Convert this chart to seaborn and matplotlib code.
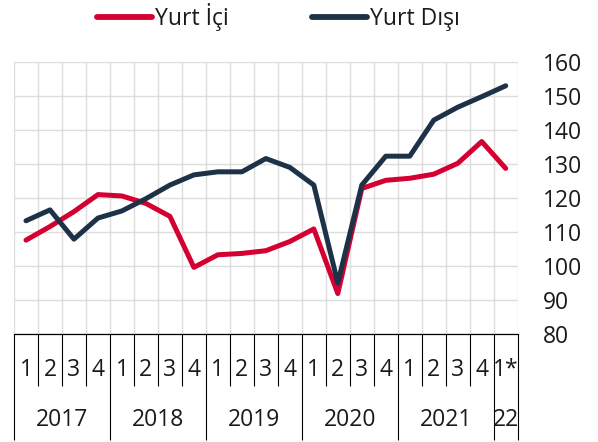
import numpy as np
import pandas as pd
import matplotlib
matplotlib.use("Agg")
import matplotlib.pyplot as plt
import matplotlib.transforms as mtransforms
import seaborn as sns

# ---- data ----
quarters = ["1", "2", "3", "4"] * 5 + ["1*"]
years = ["2017", "2018", "2019", "2020", "2021", "22"]
year_spans = [4, 4, 4, 4, 4, 1]
yurt_ici = [107.6, 111.6, 116.0, 121.0, 120.6, 118.4, 114.6, 99.6, 103.3, 103.7, 104.5,
            107.2, 110.9, 91.9, 122.8, 125.2, 125.8, 127.0, 130.2, 136.6, 128.7]
yurt_disi = [113.3, 116.5, 107.9, 114.1, 116.2, 119.8, 123.8, 126.8, 127.7, 127.7, 131.6,
             129.0, 123.8, 95.0, 123.8, 132.3, 132.3, 142.9, 146.7, 149.8, 153.0]
series_names = ["Yurt İçi", "Yurt Dışı"]
colors = ["#D50032", "#1E3247"]

n = len(quarters)
pos = np.arange(n) + 0.5
df = pd.DataFrame({
    "pos": np.concatenate([pos, pos]),
    "value": yurt_ici + yurt_disi,
    "series": [series_names[0]] * n + [series_names[1]] * n,
})

sns.set_style("white")
plt.rcParams["font.family"] = ["Open Sans", "DejaVu Sans"]
FS = 16.5
TXT = "#1a1a1a"

fig = plt.figure(figsize=(5.98, 4.42), dpi=100)
ax = fig.add_axes([14 / 598, 1 - 334 / 442, (517.7 - 14) / 598, (334 - 62) / 442])

sns.lineplot(data=df, x="pos", y="value", hue="series", palette=colors,
             linewidth=3.6, ax=ax, legend=True, solid_capstyle="round",
             solid_joinstyle="round")

ax.set_xlim(0, n)
ax.set_ylim(80, 160)
ax.set_yticks(np.arange(80, 161, 10))
ax.yaxis.tick_right()
ax.tick_params(axis="y", length=0, pad=18, labelsize=FS, labelcolor=TXT)
for lab in ax.get_yticklabels():
    lab.set_horizontalalignment("left")

ax.set_xticks(np.arange(n + 1))
ax.set_xticklabels([])
ax.set_xticks(pos, minor=True)
ax.set_xticklabels(quarters, minor=True)
ax.tick_params(axis="x", which="both", length=0)
ax.tick_params(axis="x", which="minor", pad=17, labelsize=FS, labelcolor=TXT)

ax.grid(True, which="major", color="#dddddd", linewidth=1.0)
ax.set_axisbelow(True)
for s in ["left", "right", "top"]:
    ax.spines[s].set_visible(False)
ax.spines["bottom"].set_color("black")
ax.spines["bottom"].set_linewidth(0.9)
ax.set_xlabel("")
ax.set_ylabel("")

# category separators under the axis
trans = mtransforms.blended_transform_factory(ax.transData, ax.transAxes)
year_bounds = np.concatenate([[0], np.cumsum(year_spans)])
for i in range(n + 1):
    bottom = -0.39 if i in year_bounds else -0.191
    ax.plot([i, i], [0, bottom], transform=trans, color="black", lw=0.8,
            clip_on=False, solid_capstyle="butt")
for y, a, b in zip(years, year_bounds[:-1], year_bounds[1:]):
    ax.text((a + b) / 2, -0.316, y, transform=trans, ha="center", va="center",
            fontsize=FS, color=TXT)

# legend
handles, labels = ax.get_legend_handles_labels()
leg = ax.legend(handles, labels, loc="center left",
                bbox_to_anchor=(97 / 598, 1 - 17 / 442), bbox_transform=fig.transFigure,
                ncol=2, frameon=False, fontsize=FS, handlelength=2.4,
                handletextpad=0.15, columnspacing=3.6, borderpad=0, borderaxespad=0)
for t in leg.get_texts():
    t.set_color(TXT)
for h in leg.get_lines():
    h.set_linewidth(4.2)
    h.set_solid_capstyle("round")

fig.savefig("out.png", dpi=100)
